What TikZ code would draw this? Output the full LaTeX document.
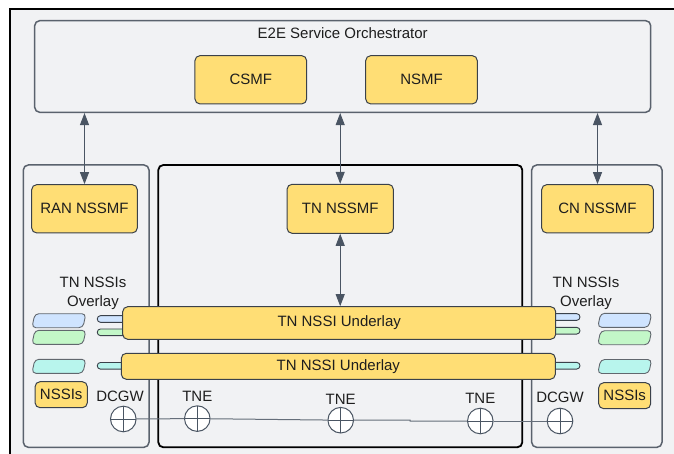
\documentclass[tikz,border=0pt]{standalone}
\usepackage{fontspec}
\setmainfont{Liberation Sans}
\usetikzlibrary{arrows.meta}
\definecolor{bgc}{HTML}{F1F2F4}
\definecolor{yel}{HTML}{FFDE75}
\definecolor{bd}{HTML}{3A414A}
\definecolor{pbd}{HTML}{5A626D}
\definecolor{ln}{HTML}{4A5563}
\definecolor{cblue}{HTML}{CFE4FF}
\definecolor{cgreen}{HTML}{C3F7C8}
\definecolor{ccyan}{HTML}{B8F5ED}
\definecolor{txt}{HTML}{1E1E1E}
\begin{document}
\begin{tikzpicture}[x=1pt,y=-1pt,
  every node/.style={text=txt},
  font=\fontsize{15}{18}\selectfont,
  ybox/.style={draw=bd, fill=yel, rounded corners=5pt, line width=1pt, inner sep=0pt},
  panel/.style={draw=pbd, rounded corners=5pt, line width=1.5pt, inner sep=0pt},
  stub/.style={draw=bd, line width=0.9pt, rounded corners=3.3pt, inner sep=0pt, minimum height=6.7pt},
  lbl/.style={inner sep=0pt, align=center},
  arr/.style={draw=ln, line width=1pt, {Triangle[length=12pt,width=9pt]}-{Triangle[length=12pt,width=9pt]}},
  netc/.style={circle, draw=ln, fill=white, line width=1pt, inner sep=0pt, minimum size=25.6pt,
    path picture={\draw[ln, line width=1pt] (path picture bounding box.north) -- (path picture bounding box.south)
      (path picture bounding box.west) -- (path picture bounding box.east);}},
  wire/.style={draw=ln!85, line width=1pt}
]
\useasboundingbox (0,0) rectangle (674,454);
\clip (0,0) rectangle (674,454);
\fill[white] (0,0) rectangle (674,454);
% outer frame
\draw[black, line width=1.8pt, fill=bgc] (10.3,8.7) rectangle (690,470);

% E2E orchestrator
\node[panel, minimum width=616pt, minimum height=91.6pt] (e2e) at (342.7,66.5) {};
\node[lbl] (e2etxt) at (342.7,33.5) {E2E Service Orchestrator};
\node[ybox, minimum width=111.7pt, minimum height=48.3pt] (csmf) at (250.8,79.8) {CSMF};
\node[ybox, minimum width=111.6pt, minimum height=48.3pt] (nsmf) at (421.5,79.8) {NSMF};

% panels
\node[panel, minimum width=125.7pt, minimum height=282.3pt] (ranp) at (86.15,306.15) {};
\node[panel, draw=black, line width=1.8pt, minimum width=364pt, minimum height=282.3pt] (tnp) at (340.3,306.15) {};
\node[panel, minimum width=130.3pt, minimum height=282.3pt] (cnp) at (596.85,306.15) {};

% NSSMF boxes
\node[ybox, minimum width=105.6pt, minimum height=48.3pt] (ran) at (84.5,208.8) {RAN NSSMF};
\node[ybox, minimum width=106.3pt, minimum height=49pt] (tnm) at (340.2,208.8) {TN NSSMF};
\node[ybox, minimum width=111.6pt, minimum height=48.3pt] (cn) at (597.5,208.8) {CN NSSMF};

% arrows
\draw[arr] (ran.north |- e2e.south) -- (ran.north);
\draw[arr] (tnm.north |- e2e.south) -- (tnm.north);
\draw[arr] (cn.north |- e2e.south) -- (cn.north);

% stubs
\node[stub, fill=cblue, minimum width=32.7pt] (sl1) at (113.6,319) {};
\node[stub, fill=cgreen, minimum width=32.7pt] (sl2) at (113.6,332.3) {};
\node[stub, fill=ccyan, minimum width=32.7pt] (sl3) at (113.6,365.8) {};
\node[stub, fill=cblue, minimum width=32pt] (sr1) at (564,317) {};
\node[stub, fill=cgreen, minimum width=32pt] (sr2) at (564,330.7) {};
\node[stub, fill=ccyan, minimum width=32pt] (sr3) at (564,365.7) {};

% underlays
\node[ybox, minimum width=433pt, minimum height=32.6pt] (u1) at (339.2,323) {TN NSSI Underlay};
\node[ybox, minimum width=434pt, minimum height=26pt] (u2) at (338.3,366.3) {TN NSSI Underlay};
\draw[arr] (tnm.south) -- (tnm.south |- u1.north);

% overlay parallelograms
\newcommand{\pgram}[3]{% center x, center y, colour
  \draw[draw=bd!80, line width=0.9pt, fill=#3, rounded corners=4pt]
    ({#1-27+3},{#2-7}) -- ({#1+27},{#2-7}) -- ({#1+27-3},{#2+7}) -- ({#1-27},{#2+7}) -- cycle;}
\pgram{58.9}{320.7}{cblue}
\pgram{58.9}{337.3}{cgreen}
\pgram{58.9}{366.3}{ccyan}
\pgram{624.7}{320.3}{cblue}
\pgram{624.7}{337.7}{cgreen}
\pgram{624.7}{366.5}{ccyan}

% overlay labels
\node[lbl, font=\fontsize{15}{18.7}\selectfont] (ovl) at (93,293.4) {TN NSSIs\\Overlay};
\node[lbl, font=\fontsize{15}{18.7}\selectfont] (ovr) at (586,293.4) {TN NSSIs\\Overlay};

% NSSIs boxes
\node[ybox, minimum width=52.3pt, minimum height=26pt] (nl) at (61.2,394.7) {NSSIs};
\node[ybox, minimum width=52pt, minimum height=26pt] (nr) at (624.7,395.7) {NSSIs};

% network elements
\node[lbl] (dl) at (120,396.7) {DCGW};
\node[lbl] (t1) at (197.3,396.7) {TNE};
\node[lbl] (t2) at (340.7,399.3) {TNE};
\node[lbl] (t3) at (480.3,398.7) {TNE};
\node[lbl] (dr) at (560,397.7) {DCGW};

\node[netc] (cdl) at (123.3,419) {};
\node[netc] (ct1) at (197.3,418.6) {};
\node[netc] (ct2) at (340.7,420.2) {};
\node[netc] (ct3) at (480.3,421) {};
\node[netc] (cdr) at (560,421) {};
\coordinate (j1) at (410,420.2);
\coordinate (j2) at (410,421.2);

\draw[wire] (cdl) -- (ct1);
\draw[wire] (ct1) -- (ct2);
\draw[wire] (ct2.east) -- (j1) -- (j2) -- (ct3.west);
\draw[wire] (ct3) -- (cdr);
\end{tikzpicture}
\end{document}
